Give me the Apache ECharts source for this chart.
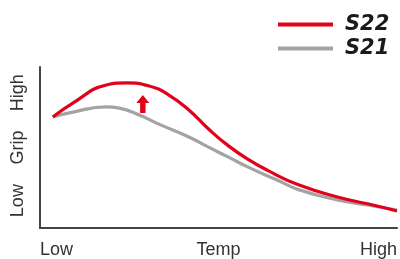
<!DOCTYPE html>
<html>
<head>
<meta charset="utf-8">
<script src="https://cdn.jsdelivr.net/npm/echarts@6/dist/echarts.min.js"></script>
<style>
  html, body { margin: 0; padding: 0; background: #fff; }
  #chart { width: 400px; height: 259px; }
</style>
</head>
<body>
<div id="chart"></div>
<script>
// temperature (0 = low, 100 = high) vs grip
const tempS22 = [3.6, 9.2, 18.6, 24.2, 30.6, 36.1, 41.7, 47.2, 52.8, 58.3, 63.9, 72.2, 83.3, 94.4, 100];
const gripS22 = [68.9, 77.6, 88.8, 90.1, 88.2, 82.6, 73.3, 61.5, 51, 42.6, 35.6, 27, 19.3, 13.7, 10.6];
const tempS21 = [3.6, 9.2, 18.6, 22.2, 27.8, 33.3, 41.7, 47.2, 52.8, 58.3, 66.7, 72.2, 83.3, 91.7, 100];
const gripS21 = [68.9, 72, 75.2, 74.5, 70.2, 64.5, 56.5, 50.2, 44, 37.8, 29.5, 24, 17.4, 14.3, 11.2];

const xTickValues = [0, 50, 100];
const xTickLabels = ['Low', 'Temp', 'High'];
const yTickValues = [17, 50, 84];
const yTickLabels = ['Low', 'Grip', 'High'];

const arrowAt = [28.8, 77]; // improvement arrow (S22 over S21)

const pairs = (xs, ys) => xs.map((x, i) => [x, ys[i]]);

const chart = echarts.init(document.getElementById('chart'));

const option = {
  animation: false,
  backgroundColor: '#fff',
  grid: { left: 40, right: 0, top: 67, bottom: 31, containLabel: false },
  legend: {
    orient: 'vertical',
    left: 273,
    top: 9,
    itemGap: 3,
    itemWidth: 55,
    itemHeight: 4,
    icon: 'rect',
    data: ['S22', 'S21'],
    textStyle: {
      fontFamily: 'DejaVu Sans',
      fontWeight: 'bold',
      fontStyle: 'italic',
      fontSize: 21,
      color: '#1a1a1a',
      padding: [0, 0, 0, 7]
    }
  },
  xAxis: {
    type: 'value',
    min: 0,
    max: 100,
    axisLine: { lineStyle: { color: '#444', width: 2 } },
    axisTick: { show: false },
    splitLine: { show: false },
    axisLabel: {
      customValues: xTickValues,
      formatter: v => xTickLabels[xTickValues.indexOf(v)],
      alignMinLabel: 'left',
      alignMaxLabel: 'right',
      margin: 13,
      fontFamily: 'Liberation Sans',
      fontSize: 18,
      color: '#333'
    }
  },
  yAxis: {
    type: 'value',
    min: 0,
    max: 100,
    axisLine: { show: true, lineStyle: { color: '#444', width: 2 } },
    axisTick: { show: false },
    splitLine: { show: false },
    axisLabel: {
      customValues: yTickValues,
      formatter: v => yTickLabels[yTickValues.indexOf(v)],
      rotate: 90,
      margin: 13,
      fontFamily: 'Liberation Sans',
      fontSize: 18,
      color: '#333'
    }
  },
  series: [
    {
      name: 'S21',
      type: 'line',
      smooth: 0.5,
      symbol: 'none',
      data: pairs(tempS21, gripS21),
      lineStyle: { color: '#a3a3a3', width: 3.2 },
      itemStyle: { color: '#a3a3a3' },
      z: 2
    },
    {
      name: 'S22',
      type: 'line',
      smooth: 0.5,
      symbol: 'none',
      data: pairs(tempS22, gripS22),
      lineStyle: { color: '#e2001a', width: 3.2 },
      itemStyle: { color: '#e2001a' },
      z: 3,
      markPoint: {
        symbol: 'path://M6,0 L12,8 L8.5,8 L8.5,18 L3.5,18 L3.5,8 L0,8 Z',
        symbolSize: [13, 18],
        label: { show: false },
        itemStyle: { color: '#e2001a' },
        data: [{ coord: arrowAt }]
      }
    }
  ]
};

chart.setOption(option);
</script>
</body>
</html>
